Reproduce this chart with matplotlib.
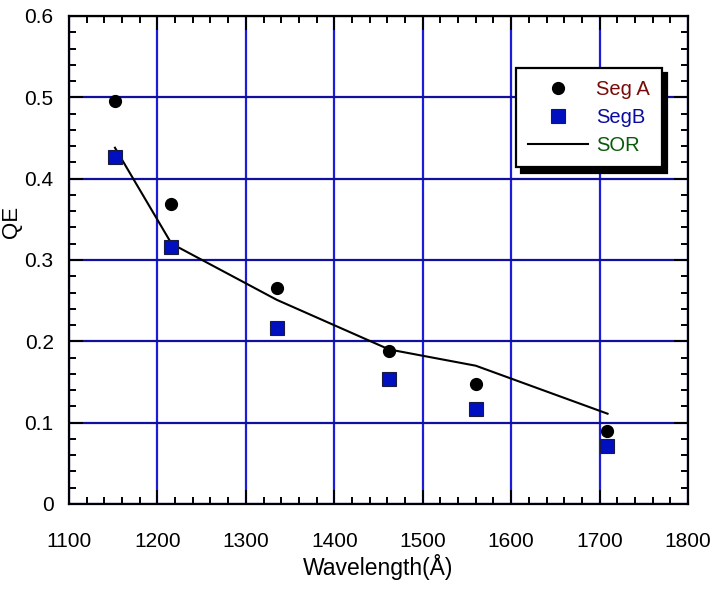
import matplotlib
matplotlib.use("Agg")
import matplotlib.pyplot as plt
from matplotlib.ticker import MultipleLocator

plt.rcParams['font.family'] = ['Liberation Sans', 'DejaVu Sans']

wavelength = [1152, 1215, 1335, 1462, 1560, 1708]
seg_a = [0.496, 0.369, 0.266, 0.188, 0.148, 0.090]
seg_b = [0.427, 0.316, 0.216, 0.154, 0.117, 0.071]
sor_wavelength = [1152, 1216, 1335, 1462, 1560, 1709]
sor = [0.438, 0.320, 0.251, 0.190, 0.170, 0.111]

fig = plt.figure(figsize=(7.11, 5.90), dpi=100)
ax = fig.add_axes([0.097, 0.1458, 0.8707, 0.8271])

ax.set_xlim(1100, 1800)
ax.set_ylim(0, 0.6)
ax.xaxis.set_major_locator(MultipleLocator(100))
ax.xaxis.set_minor_locator(MultipleLocator(20))
ax.yaxis.set_major_locator(MultipleLocator(0.1))
ax.yaxis.set_minor_locator(MultipleLocator(0.02))
ax.yaxis.set_major_formatter(matplotlib.ticker.FuncFormatter(lambda v, p: "0" if abs(v) < 1e-9 else f"{v:.1f}"))

ax.xaxis.grid(True, which='major', color='#1c1cd8', linewidth=1.6, zorder=0)
ax.yaxis.grid(True, which='major', color='#10109c', linewidth=1.6, zorder=0)
ax.set_axisbelow(True)
ax.tick_params(which='both', direction='in', top=True, right=True, color='black', width=1.4)
ax.tick_params(which='major', length=10)
ax.tick_params(which='minor', length=5)
ax.tick_params(axis='x', which='major', pad=20, labelsize=15)
ax.tick_params(axis='y', which='major', pad=11, labelsize=15)
for s in ax.spines.values():
    s.set_linewidth(1.6)

ax.plot(sor_wavelength, sor, color='black', linewidth=1.5, label='SOR', zorder=3)
ax.plot(wavelength, seg_a, linestyle='none', marker='o', markersize=8.5,
        color='black', label='Seg A', zorder=4)
ax.plot(wavelength, seg_b, linestyle='none', marker='s', markersize=9.5,
        markerfacecolor='#0010c0', markeredgecolor='#1a1a40', markeredgewidth=0.8,
        label='SegB', zorder=4)

ax.set_xlabel('Wavelength(Å)', fontsize=16.5, labelpad=2)
ax.set_ylabel('QE', fontsize=16)
ax.yaxis.set_label_coords(-0.076, 0.578)

handles, labels = ax.get_legend_handles_labels()
order = [1, 2, 0]
leg = ax.legend([handles[i] for i in order], [labels[i] for i in order],
                loc='upper right', bbox_to_anchor=(0.931, 0.885),
                bbox_transform=fig.transFigure, borderaxespad=0,
                fontsize=14.5, handlelength=3.0, handletextpad=0.4,
                labelspacing=0.45, borderpad=0.6, fancybox=False,
                framealpha=1, edgecolor='black',
                shadow={'color': 'black', 'alpha': 1, 'ox': 4, 'oy': -4})
leg.get_frame().set_linewidth(1.6)
for t, c in zip(leg.get_texts(), ['#7a0a0a', '#0a0aa0', '#0a5a0a']):
    t.set_color(c)

fig.savefig('out.png', dpi=100)
